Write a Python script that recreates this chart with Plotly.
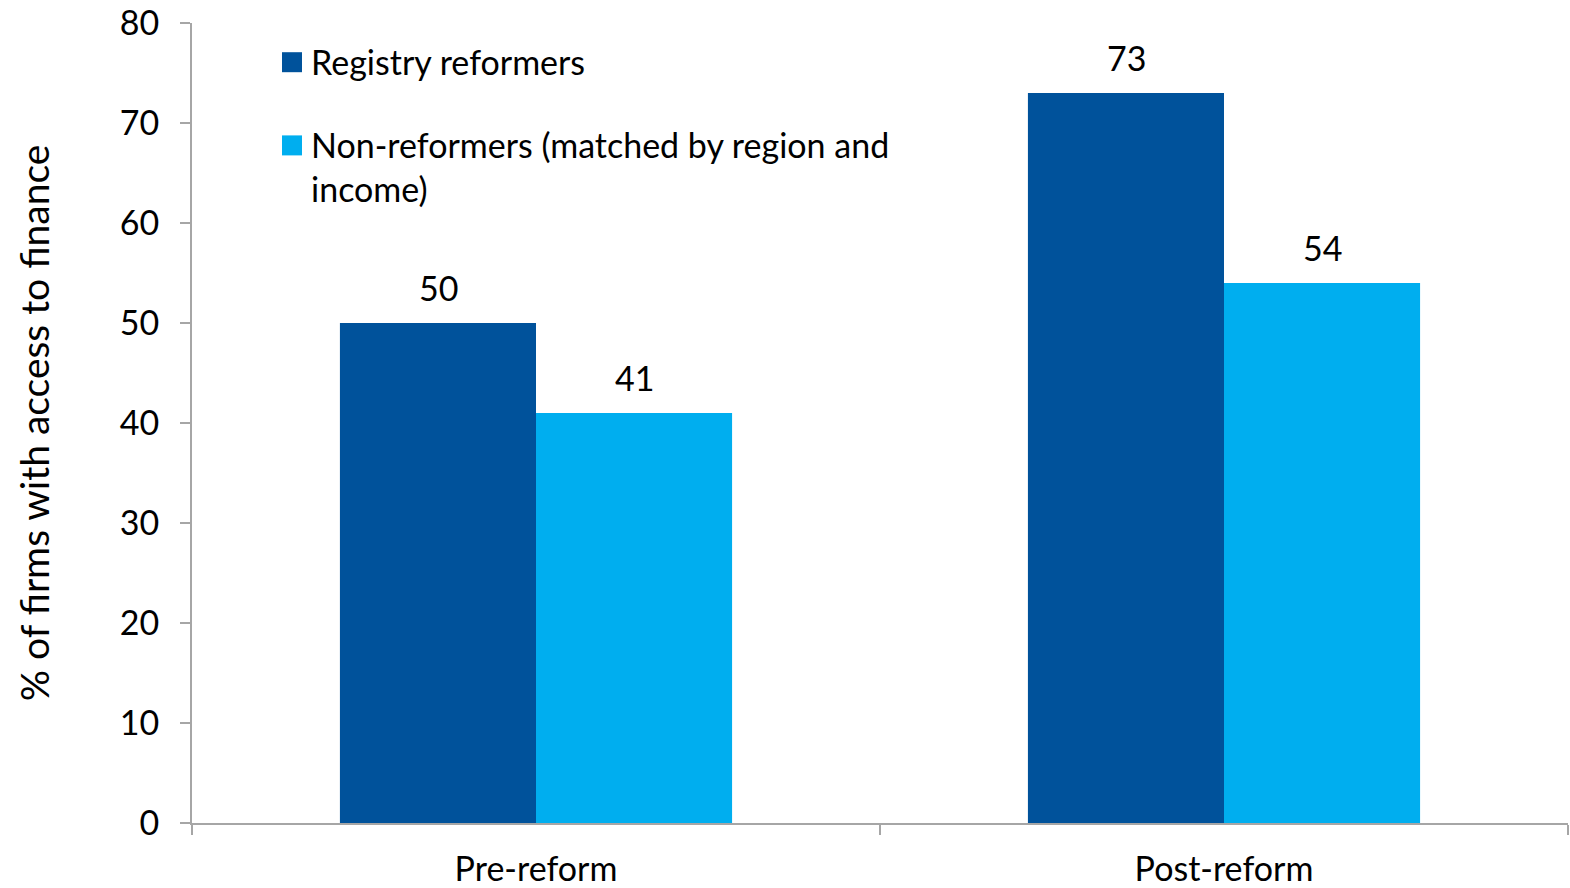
import plotly.graph_objects as go

# Share of firms with access to finance, before and after registry reform
categories = ["Pre-reform", "Post-reform"]
series_names = ["Registry reformers", "Non-reformers (matched by region and<br>income)"]
reformers = [50, 73]
non_reformers = [41, 54]
y_ticks = [0, 10, 20, 30, 40, 50, 60, 70, 80]

DARK = "#00529B"
LIGHT = "#00AEEF"
AXIS = "#A6A6A6"
FONT = "Lato, Carlito, Calibri, sans-serif"
FS = 34

fig = go.Figure()
for name, vals, col in [(series_names[0], reformers, DARK),
                        (series_names[1], non_reformers, LIGHT)]:
    fig.add_trace(go.Bar(
        x=categories, y=vals, name=name,
        marker=dict(color=col, line=dict(width=0)),
        showlegend=False,
    ))

# Value labels above each bar
for vals, shift in [(reformers, -98), (non_reformers, 98)]:
    for cat, v in zip(categories, vals):
        fig.add_annotation(
            x=cat, y=v, text=str(v), showarrow=False,
            xshift=shift, yshift=13, yanchor="bottom",
            font=dict(size=FS, color="#000000", family=FONT),
        )

# Legend drawn as swatches and labels inside the plot area
legend_items = [
    (series_names[0], DARK, 0.951),
    (series_names[1], LIGHT, 0.847),
]
for label, col, yc in legend_items:
    fig.add_shape(
        type="rect", xref="paper", yref="paper",
        x0=(282 - 192) / 1376, x1=(302 - 192) / 1376,
        y0=yc - 10 / 800, y1=yc + 10 / 800,
        fillcolor=col, line=dict(width=0),
    )
    fig.add_annotation(
        xref="paper", yref="paper",
        x=(309 - 192) / 1376, y=yc + 23 / 800,
        text=label, showarrow=False, align="left",
        xanchor="left", yanchor="top",
        font=dict(size=FS, color="#000000", family=FONT),
    )

fig.update_layout(
    width=1570, height=888,
    margin=dict(l=192, r=2, t=23, b=65),
    paper_bgcolor="white", plot_bgcolor="white",
    barmode="group", bargap=0.43, bargroupgap=0,
    font=dict(family=FONT, size=FS, color="#000000"),
)
fig.update_xaxes(
    showline=True, linecolor=AXIS, linewidth=2,
    ticks="outside", tickson="boundaries", ticklen=10,
    tickcolor=AXIS, tickwidth=2, ticklabelstandoff=15,
    showgrid=False, tickfont=dict(size=FS), automargin=False,
)
fig.update_yaxes(
    range=[0, 80], tickvals=y_ticks,
    showline=True, linecolor=AXIS, linewidth=2,
    ticks="outside", ticklen=10, tickcolor=AXIS, tickwidth=2,
    ticklabelstandoff=14, automargin=False,
    showgrid=False, zeroline=False, tickfont=dict(size=FS),
    title=dict(text="% of firms with access to finance",
               font=dict(size=39), standoff=58),
)

fig.write_html("out.html")
